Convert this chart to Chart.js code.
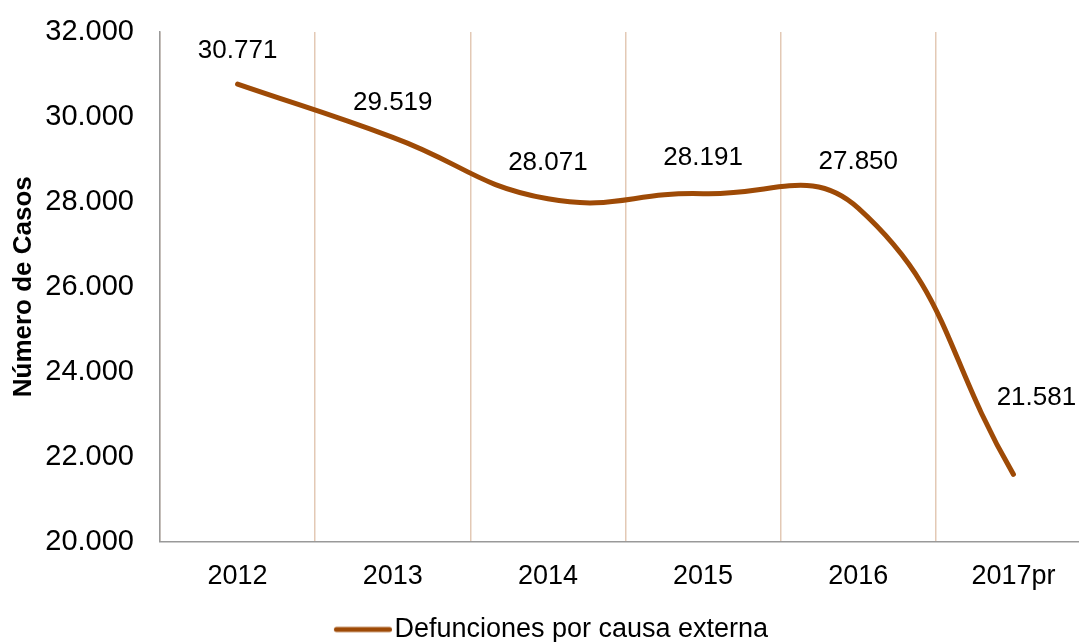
<!DOCTYPE html>
<html>
<head>
<meta charset="utf-8">
<script src="https://cdn.jsdelivr.net/npm/chart.js@4/dist/chart.umd.min.js"></script>
<style>
  html, body { margin: 0; padding: 0; background: #fff; overflow: hidden; }
  #wrap { width: 1092px; height: 642px; }
</style>
</head>
<body>
<div id="wrap"><canvas id="c" width="1092" height="642"></canvas></div>
<script>
const categories = ['2012', '2013', '2014', '2015', '2016', '2017pr'];
const defunciones = [30771, 29519, 28071, 28191, 27850, 21581];
const seriesLabel = 'Defunciones por causa externa';
const yTitle = 'Número de Casos';
const yMin = 20000, yMax = 32000, yStep = 2000;

const FONT = '"Liberation Sans", Arial, sans-serif';
const LINE_COLOR = '#9E4A06';

function fmt(v) {
  return String(Math.round(v)).replace(/\B(?=(\d{3})+(?!\d))/g, '.');
}

// Legend marker: a thick line, drawn into a small canvas
const marker = document.createElement('canvas');
marker.width = 80; marker.height = 10;
(function () {
  const m = marker.getContext('2d');
  m.strokeStyle = LINE_COLOR;
  m.lineWidth = 5;
  m.lineCap = 'round';
  m.beginPath();
  m.moveTo(24.5, 5);
  m.lineTo(77.5, 5);
  m.stroke();
})();

const valueLabels = {
  id: 'valueLabels',
  afterDatasetsDraw(chart, args, opts) {
    const meta = chart.getDatasetMeta(0);
    const data = chart.data.datasets[0].data;
    const ctx = chart.ctx;
    ctx.save();
    ctx.font = '26px ' + FONT;
    ctx.fillStyle = '#000';
    ctx.textAlign = 'center';
    ctx.textBaseline = 'middle';
    meta.data.forEach((pt, i) => {
      const off = opts.offsets[i] || [0, -35];
      ctx.fillText(fmt(data[i]), pt.x + off[0], pt.y + off[1]);
    });
    ctx.restore();
  }
};

new Chart(document.getElementById('c'), {
  type: 'line',
  data: {
    labels: categories,
    datasets: [{
      label: seriesLabel,
      data: defunciones,
      borderColor: LINE_COLOR,
      backgroundColor: LINE_COLOR,
      borderWidth: 5,
      borderCapStyle: 'round',
      tension: 0.45,
      pointRadius: 0,
      pointHoverRadius: 0,
      fill: false,
      pointStyle: marker
    }]
  },
  options: {
    responsive: false,
    animation: false,
    layout: { padding: { top: 32, right: 1, left: 0, bottom: -11 } },
    plugins: {
      tooltip: { enabled: false },
      valueLabels: {
        offsets: [[0, -33], [0, -35], [0, -36], [0, -36], [0, -46], [23, -77]]
      },
      legend: {
        position: 'bottom',
        labels: {
          usePointStyle: true,
          pointStyleWidth: 58,
          padding: 0,
          color: '#000',
          font: { family: FONT, size: 27 }
        }
      }
    },
    scales: {
      x: {
        offset: true,
        afterFit(scale) { scale.height = 74.5; },
        grid: {
          display: true,
          offset: true,
          color: '#E3C9B5',
          lineWidth: 1.5,
          drawTicks: false
        },
        border: { display: true, color: '#999999', width: 1.5 },
        ticks: {
          color: '#000',
          padding: 19,
          font: { family: FONT, size: 27 }
        }
      },
      y: {
        min: yMin,
        max: yMax,
        afterFit(scale) {
          scale.width = 160;
          scale.paddingTop = 0;
          scale.paddingBottom = 0;
        },
        grid: { display: false, drawTicks: false },
        border: { display: true, color: '#999999', width: 1.5 },
        ticks: {
          stepSize: yStep,
          color: '#000',
          padding: 26,
          font: { family: FONT, size: 29 },
          callback: (v) => fmt(v)
        },
        title: {
          display: true,
          text: yTitle,
          color: '#000',
          padding: { top: 8, bottom: 4 },
          font: { family: FONT, size: 26, weight: 'bold' }
        }
      }
    }
  },
  plugins: [valueLabels]
});
</script>
</body>
</html>
